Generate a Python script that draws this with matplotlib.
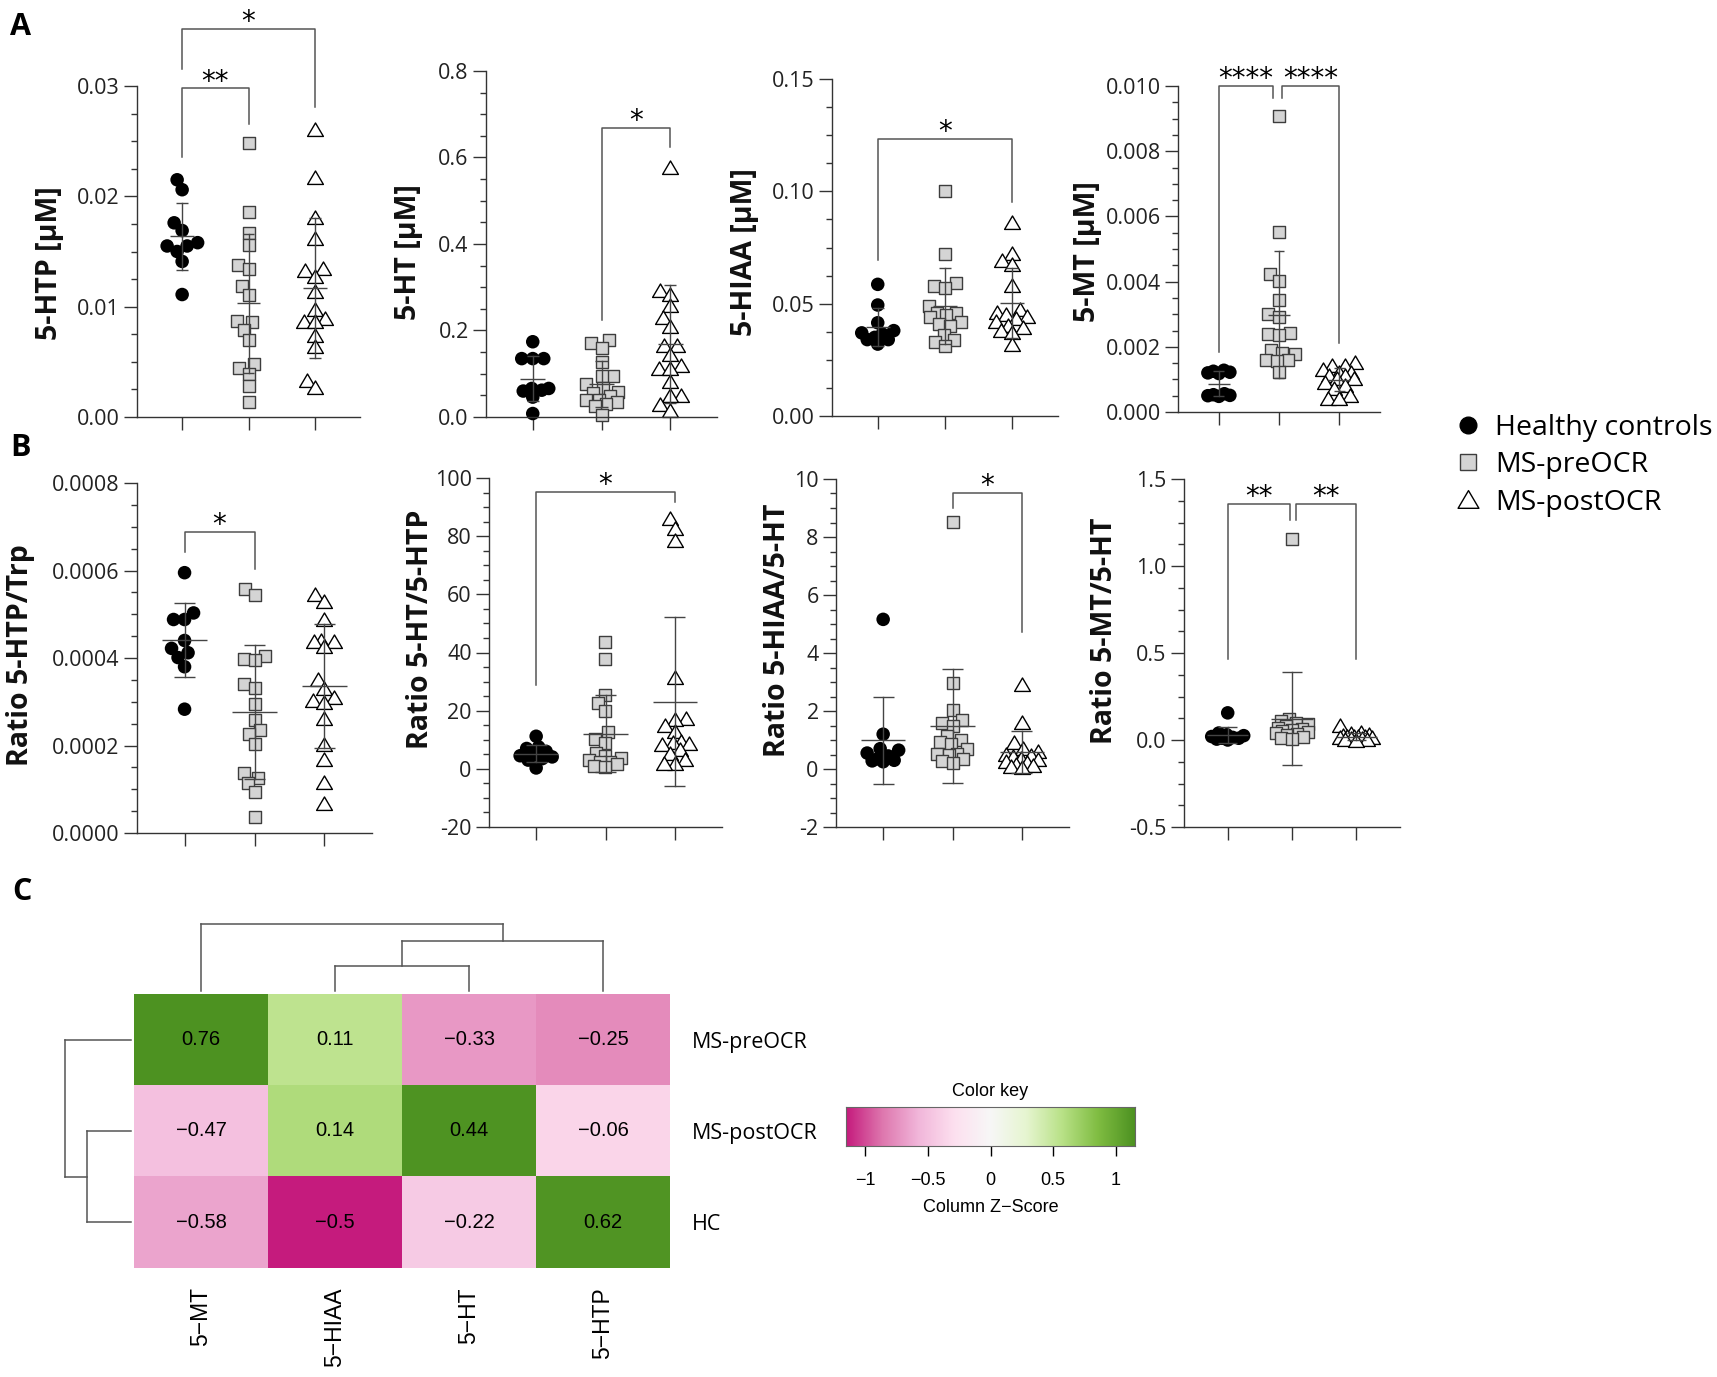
# Serotonin pathway metabolites: scatter panels (A, B) and clustered heatmap (C)

import numpy as np
import matplotlib
matplotlib.use('Agg')
import matplotlib.pyplot as plt
from matplotlib.colors import LinearSegmentedColormap, Normalize
from matplotlib.lines import Line2D
from matplotlib.path import Path
from matplotlib.ticker import FixedLocator, FixedFormatter, AutoMinorLocator

plt.rcParams['font.family'] = ['Open Sans', 'DejaVu Sans']

# ---------------- data ----------------
groups = ['Healthy controls', 'MS-preOCR', 'MS-postOCR']

# panel A, concentrations [uM]
htp_hc = [0.0215, 0.0206, 0.0176, 0.0169, 0.0158, 0.0155, 0.0155, 0.0150, 0.0141, 0.0111]
htp_pre = [0.0248, 0.0186, 0.0167, 0.0156, 0.0138, 0.0134, 0.0119, 0.0111, 0.0087, 0.0086,
           0.0079, 0.0070, 0.0048, 0.0044, 0.0039, 0.0028, 0.0014]
htp_post = [0.0260, 0.0217, 0.0180, 0.0161, 0.0134, 0.0132, 0.0127, 0.0113, 0.0097, 0.0089,
            0.0086, 0.0086, 0.0073, 0.0063, 0.0033, 0.0026]

ht_hc = [0.174, 0.135, 0.135, 0.135, 0.066, 0.066, 0.062, 0.060, 0.046, 0.008]
ht_pre = [0.179, 0.170, 0.160, 0.127, 0.094, 0.094, 0.077, 0.067, 0.058, 0.056, 0.048,
          0.039, 0.039, 0.035, 0.029, 0.025, 0.005]
ht_post = [0.575, 0.291, 0.282, 0.256, 0.228, 0.208, 0.164, 0.164, 0.143, 0.117, 0.110,
           0.110, 0.081, 0.048, 0.048, 0.027, 0.015]

hiaa_hc = [0.0586, 0.0494, 0.0415, 0.038, 0.037, 0.0365, 0.035, 0.034, 0.034, 0.032]
hiaa_pre = [0.100, 0.072, 0.059, 0.058, 0.057, 0.049, 0.046, 0.046, 0.045, 0.044, 0.042,
            0.041, 0.040, 0.036, 0.034, 0.033, 0.031]
hiaa_post = [0.086, 0.072, 0.069, 0.067, 0.058, 0.047, 0.046, 0.045, 0.044, 0.043, 0.042,
             0.040, 0.039, 0.038, 0.037, 0.0315]

mt_hc = [0.00128, 0.00125, 0.00122, 0.00120, 0.00118, 0.00056, 0.00053, 0.00051, 0.00050, 0.00048]
mt_pre = [0.00909, 0.00551, 0.00422, 0.00401, 0.00343, 0.00302, 0.00292, 0.00241, 0.00238,
          0.00235, 0.00189, 0.00182, 0.00179, 0.00160, 0.00159, 0.00156, 0.00123]
mt_post = [0.0015, 0.0014, 0.0014, 0.0013, 0.0012, 0.0012, 0.0011, 0.0011, 0.0010, 0.0010,
           0.0009, 0.0008, 0.0007, 0.0005, 0.0004, 0.0004]

# panel B, ratios
htp_trp_hc = [0.000595, 0.000503, 0.000488, 0.000488, 0.00044, 0.000422, 0.000412, 0.000401,
              0.00038, 0.000283]
htp_trp_pre = [0.000557, 0.000545, 0.000405, 0.000397, 0.000395, 0.00034, 0.000331, 0.000295,
               0.000259, 0.000236, 0.000226, 0.000204, 0.000137, 0.000125, 0.000114, 0.000093,
               0.000036]
htp_trp_post = [0.000544, 0.000529, 0.000487, 0.00044, 0.000437, 0.000437, 0.000426, 0.00035,
                0.000329, 0.000309, 0.000302, 0.000298, 0.00026, 0.000202, 0.000167, 0.000114,
                0.000067]

ht_htp_hc = [11.2, 7.5, 7.0, 6.0, 5.0, 4.5, 4.1, 3.5, 3.0, 0.3]
ht_htp_pre = [43.5, 37.6, 25.4, 22.7, 20.0, 12.7, 10.4, 9.0, 5.3, 4.5, 3.6, 3.0, 2.5, 2.4,
              1.6, 1.0, 0.7]
ht_htp_post = [85.9, 82.4, 78.5, 31.4, 17.3, 16.7, 14.7, 12.7, 9.3, 8.9, 8.7, 8.1, 6.4, 5.2,
               3.0, 1.8, 1.8]

hiaa_ht_hc = [5.16, 1.2, 0.7, 0.65, 0.55, 0.45, 0.35, 0.3, 0.28, 0.25]
hiaa_ht_pre = [8.53, 2.97, 2.03, 1.7, 1.57, 1.48, 1.13, 1.0, 0.94, 0.85, 0.7, 0.53, 0.53,
               0.47, 0.35, 0.28, 0.19]
hiaa_ht_post = [2.89, 1.59, 0.9, 0.7, 0.6, 0.5, 0.45, 0.4, 0.35, 0.3, 0.25, 0.2, 0.15, 0.1,
                0.07, 0.05]

mt_ht_hc = [0.156, 0.04, 0.03, 0.025, 0.02, 0.015, 0.01, 0.01, 0.005, 0.0]
mt_ht_pre = [1.153, 0.12, 0.11, 0.10, 0.09, 0.08, 0.07, 0.065, 0.06, 0.05, 0.045, 0.04,
             0.035, 0.03, 0.02, 0.01, 0.005]
mt_ht_post = [0.08, 0.04, 0.035, 0.03, 0.025, 0.02, 0.02, 0.015, 0.015, 0.01, 0.01, 0.005,
              0.005, 0.0, 0.0, -0.005]

# y tick labels
htp_ticks = ['0.00', '0.01', '0.02', '0.03']
ht_ticks = ['0.0', '0.2', '0.4', '0.6', '0.8']
hiaa_ticks = ['0.00', '0.05', '0.10', '0.15']
mt_ticks = ['0.000', '0.002', '0.004', '0.006', '0.008', '0.010']
htp_trp_ticks = ['0.0000', '0.0002', '0.0004', '0.0006', '0.0008']
ht_htp_ticks = ['-20', '0', '20', '40', '60', '80', '100']
hiaa_ht_ticks = ['-2', '0', '2', '4', '6', '8', '10']
mt_ht_ticks = ['-0.5', '0.0', '0.5', '1.0', '1.5']

# panel C, heatmap
hm_cols = ['5\u2212MT', '5\u2212HIAA', '5\u2212HT', '5\u2212HTP']
hm_rows = ['MS-preOCR', 'MS-postOCR', 'HC']
hm_vals = [[0.76, 0.11, -0.33, -0.25],
           [-0.47, 0.14, 0.44, -0.06],
           [-0.58, -0.5, -0.22, 0.62]]
# dendrogram merges: (child a, child b, relative height); new node ids follow the leaves
col_merges = [(1, 2, 0.37), (4, 3, 0.75), (0, 5, 1.0)]
row_merges = [(1, 2, 0.67), (0, 3, 1.0)]
key_ticks = ['\u22121', '\u22120.5', '0', '0.5', '1']
piyg = ['#c51b7d', '#de77ae', '#f1b6da', '#fde0ef', '#f7f7f7',
        '#e6f5d0', '#b8e186', '#7fbc41', '#4d9221']

# ---------------- layout ----------------
W, H = 1717, 1377
fig = plt.figure(figsize=(W / 100, H / 100), dpi=100)


def px_axes(l, t, r, b):
    return fig.add_axes([l / W, 1 - b / H, (r - l) / W, (b - t) / H])


def ftext(x, y, s, **kw):
    fig.text(x / W, 1 - y / H, s, **kw)


tri = Path([(-1, -0.75), (1, -0.75), (0, 0.95), (-1, -0.75)],
           [Path.MOVETO, Path.LINETO, Path.LINETO, Path.CLOSEPOLY])
styles = [dict(marker='o', s=95, c='black', edgecolors='none'),
          dict(marker='s', s=82, c='#d4d4d4', edgecolors='#3d3d3d', linewidths=1.0),
          dict(marker=tri, s=130, c='white', edgecolors='black', linewidths=1.0)]


def swarm_x(ax, xc, vals, gap, max_w):
    # beeswarm limited to +-max_w px; points overlap once the band is full
    pts = ax.transData.transform(np.column_stack([np.full(len(vals), xc), vals]))
    x0, ys = pts[0, 0], pts[:, 1]
    grid = np.arange(-max_w, max_w + 0.01, 0.5)
    grid = grid[np.lexsort((grid, np.abs(grid)))]
    offs = np.zeros(len(vals))
    done = []
    for i in np.argsort(ys):
        if done:
            ox, oy = offs[done], ys[done]
            d = np.sqrt((grid[:, None] - ox[None, :]) ** 2 + (ys[i] - oy[None, :]) ** 2).min(axis=1)
            ok = np.where(d >= gap)[0]
            offs[i] = grid[ok[0]] if len(ok) else grid[np.argmax(d)]
        done.append(i)
    return ax.transData.inverted().transform(np.column_stack([x0 + offs, ys]))[:, 0]


panels = [
    dict(data=(htp_hc, htp_pre, htp_post), label='5-HTP [µM]', ticks=htp_ticks,
         box=(137, 86, 360, 417), lab=(50, 263), row='A',
         sig=[(0, 1, 0.0298, 0.0236, 0.0266, '**'), (0, 2, 0.0352, 0.0315, 0.0281, '*')]),
    dict(data=(ht_hc, ht_pre, ht_post), label='5-HT [µM]', ticks=ht_ticks,
         box=(486, 71, 717, 417), lab=(408, 252), row='A',
         sig=[(1, 2, 0.668, 0.224, 0.624, '*')]),
    dict(data=(hiaa_hc, hiaa_pre, hiaa_post), label='5-HIAA [µM]', ticks=hiaa_ticks,
         box=(832, 79, 1058, 416), lab=(744, 252), row='A',
         sig=[(0, 2, 0.1233, 0.0694, 0.0953, '*')]),
    dict(data=(mt_hc, mt_pre, mt_post), label='5-MT [µM]', ticks=mt_ticks,
         box=(1178, 86, 1380, 412), lab=(1087, 252), row='A',
         sig=[(0, 0.9, 0.0100, 0.00184, 0.00963, '****'),
              (1.05, 2, 0.0100, 0.00963, 0.00212, '****')]),
    dict(data=(htp_trp_hc, htp_trp_pre, htp_trp_post), label='Ratio 5-HTP/Trp',
         ticks=htp_trp_ticks, box=(137, 483, 372, 833), lab=(21, 655), row='B',
         sig=[(0, 1, 0.000688, 0.000642, 0.000603, '*')]),
    dict(data=(ht_htp_hc, ht_htp_pre, ht_htp_post), label='Ratio 5-HT/5-HTP',
         ticks=ht_htp_ticks, box=(489, 478, 722, 827), lab=(420, 629), row='B',
         sig=[(0, 2, 95.2, 28.8, 91.7, '*')]),
    dict(data=(hiaa_ht_hc, hiaa_ht_pre, hiaa_ht_post), label='Ratio 5-HIAA/5-HT',
         ticks=hiaa_ht_ticks, box=(836, 479, 1069, 827), lab=(777, 630), row='B',
         sig=[(1, 2, 9.52, 9.0, 4.72, '*')]),
    dict(data=(mt_ht_hc, mt_ht_pre, mt_ht_post), label='Ratio 5-MT/5-HT',
         ticks=mt_ht_ticks, box=(1184, 479, 1400, 827), lab=(1104, 631), row='B',
         sig=[(0, 0.97, 1.356, 0.466, 1.264, '**'), (1.06, 2, 1.356, 1.264, 0.466, '**')]),
]

axis_col = '#333333'
bar_col = '#444444'

for p in panels:
    ax = px_axes(*p['box'])
    tvals = [float(t) for t in p['ticks']]
    ax.set_ylim(tvals[0], tvals[-1])
    ax.set_xlim(-0.68, 2.68)
    for side in ['top', 'right']:
        ax.spines[side].set_visible(False)
    for side in ['left', 'bottom']:
        ax.spines[side].set_linewidth(1.0)
        ax.spines[side].set_color(axis_col)
    ax.yaxis.set_major_locator(FixedLocator(tvals))
    ax.yaxis.set_major_formatter(FixedFormatter(p['ticks']))
    ax.yaxis.set_minor_locator(AutoMinorLocator(4))
    ax.set_xticks([0, 1, 2])
    ax.set_xticklabels([])
    ax.tick_params(axis='both', which='major', length=9.5, width=1.0, color=axis_col,
                   labelsize=15.5, labelcolor='#222222', pad=3)
    ax.tick_params(axis='y', which='minor', length=4.5, width=1.0, color=axis_col)
    ax.patch.set_alpha(0)

    mean_hw, cap_hw = (0.18, 0.09) if p['row'] == 'A' else (0.32, 0.15)
    for k, vals in enumerate(p['data']):
        xs = swarm_x(ax, k, vals, 11.0, 16.0)
        ax.scatter(xs, vals, zorder=2, clip_on=False, **styles[k])
        m, sd = np.mean(vals), np.std(vals, ddof=1)
        ax.plot([k, k], [m - sd, m + sd], color=bar_col, lw=1.0, zorder=3)
        ax.hlines([m - sd, m + sd], k - cap_hw, k + cap_hw, color=bar_col, lw=1.0, zorder=3)
        ax.hlines(m, k - mean_hw, k + mean_hw, color=bar_col, lw=1.0, zorder=3)

    for x1, x2, yb, yl, yr, star in p['sig']:
        ax.plot([x1, x1, x2, x2], [yl, yb, yb, yr], color='#555555', lw=1.1,
                clip_on=False, zorder=4)
        ax.annotate(star, xy=((x1 + x2) / 2, yb), xytext=(0, -1), textcoords='offset points',
                    ha='center', va='baseline', fontsize=20, family='DejaVu Sans',
                    annotation_clip=False)

    ftext(*p['lab'], p['label'], rotation=90, ha='center', va='center',
          fontsize=20.5, fontweight='bold', color='#111111')

ftext(20, 27, 'A', fontsize=22, fontweight='bold', ha='center', va='center')
ftext(20, 448, 'B', fontsize=22, fontweight='bold', ha='center', va='center')
ftext(22, 892, 'C', fontsize=22, fontweight='bold', ha='center', va='center')

# legend
handles = [Line2D([], [], ls='none', marker='o', ms=12, color='black'),
           Line2D([], [], ls='none', marker='s', ms=12, mfc='#d4d4d4', mec='#3d3d3d', mew=1.0),
           Line2D([], [], ls='none', marker=tri, ms=15, mfc='white', mec='black', mew=1.0)]
fig.legend(handles, groups, loc='upper left', bbox_to_anchor=(1454 / W, 1 - 414 / H),
           frameon=False, fontsize=20.5, handlelength=1.0, handletextpad=0.45,
           labelspacing=0.33, borderpad=0, borderaxespad=0)

# ---------------- heatmap ----------------
vals = np.array(hm_vals)
z = (vals - vals.mean(axis=0)) / vals.std(axis=0, ddof=1)
zmax = np.abs(z).max()
cmap = LinearSegmentedColormap.from_list('piyg9', piyg)
norm = Normalize(-zmax, zmax)

hl, ht, hr, hb = 134, 994, 670, 1268
hm = px_axes(hl, ht, hr, hb)
hm.imshow(z, cmap=cmap, norm=norm, aspect='auto')
for i in range(vals.shape[0]):
    for j in range(vals.shape[1]):
        hm.text(j, i, f'{vals[i, j]:g}'.replace('-', '\u2212'), ha='center', va='center',
                fontsize=14.5, family='Liberation Sans', color='black')
for s in hm.spines.values():
    s.set_visible(False)
hm.set_xticks(range(len(hm_cols)))
hm.set_xticklabels(hm_cols, rotation=90, fontsize=16.5, family='Liberation Sans', va='top')
hm.set_yticks(range(len(hm_rows)))
hm.set_yticklabels(hm_rows, fontsize=15.5)
hm.yaxis.tick_right()
hm.tick_params(axis='x', length=0, pad=14)
hm.tick_params(axis='y', length=0, pad=16)

# dendrograms in figure-pixel coordinates
ov = fig.add_axes([0, 0, 1, 1])
ov.set_xlim(0, W)
ov.set_ylim(H, 0)
ov.axis('off')
ov.patch.set_visible(False)


def draw_tree(leaf_pos, merges, to_px, vertical):
    pos = list(leaf_pos)
    hts = [0.0] * len(leaf_pos)
    for a, b, h in merges:
        for n in (a, b):
            seg = [(pos[n], to_px(hts[n])), (pos[n], to_px(h))]
            xs, ys = zip(*seg) if vertical else zip(*[(q, p) for p, q in seg])
            ov.plot(xs, ys, color='#555555', lw=1.1)
        seg = [(pos[a], to_px(h)), (pos[b], to_px(h))]
        xs, ys = zip(*seg) if vertical else zip(*[(q, p) for p, q in seg])
        ov.plot(xs, ys, color='#555555', lw=1.1)
        pos.append((pos[a] + pos[b]) / 2)
        hts.append(h)


cw = (hr - hl) / len(hm_cols)
rh = (hb - ht) / len(hm_rows)
draw_tree([hl + cw * (j + 0.5) for j in range(len(hm_cols))], col_merges,
          lambda h: 991 - 67 * h, vertical=True)
draw_tree([ht + rh * (i + 0.5) for i in range(len(hm_rows))], row_merges,
          lambda h: 131 - 66 * h, vertical=False)

# color key
ck = px_axes(846, 1107, 1135, 1146)
ck.imshow(np.linspace(-zmax, zmax, 256)[None, :], cmap=cmap, norm=norm, aspect='auto',
          extent=[-zmax, zmax, 0, 1])
ck.set_xlim(-zmax, zmax)
ck.set_yticks([])
ck.set_xticks([float(t.replace('\u2212', '-')) for t in key_ticks])
ck.set_xticklabels(key_ticks, family='Liberation Sans', fontsize=13)
ck.tick_params(axis='x', length=7, width=1.0, pad=12)
for s in ck.spines.values():
    s.set_linewidth(0.8)
    s.set_color('#666666')
ck.set_title('Color key', family='Liberation Sans', fontsize=13, pad=8)
ck.set_xlabel('Column Z\u2212Score', family='Liberation Sans', fontsize=13, labelpad=7)

fig.savefig('out.png', dpi=100)
